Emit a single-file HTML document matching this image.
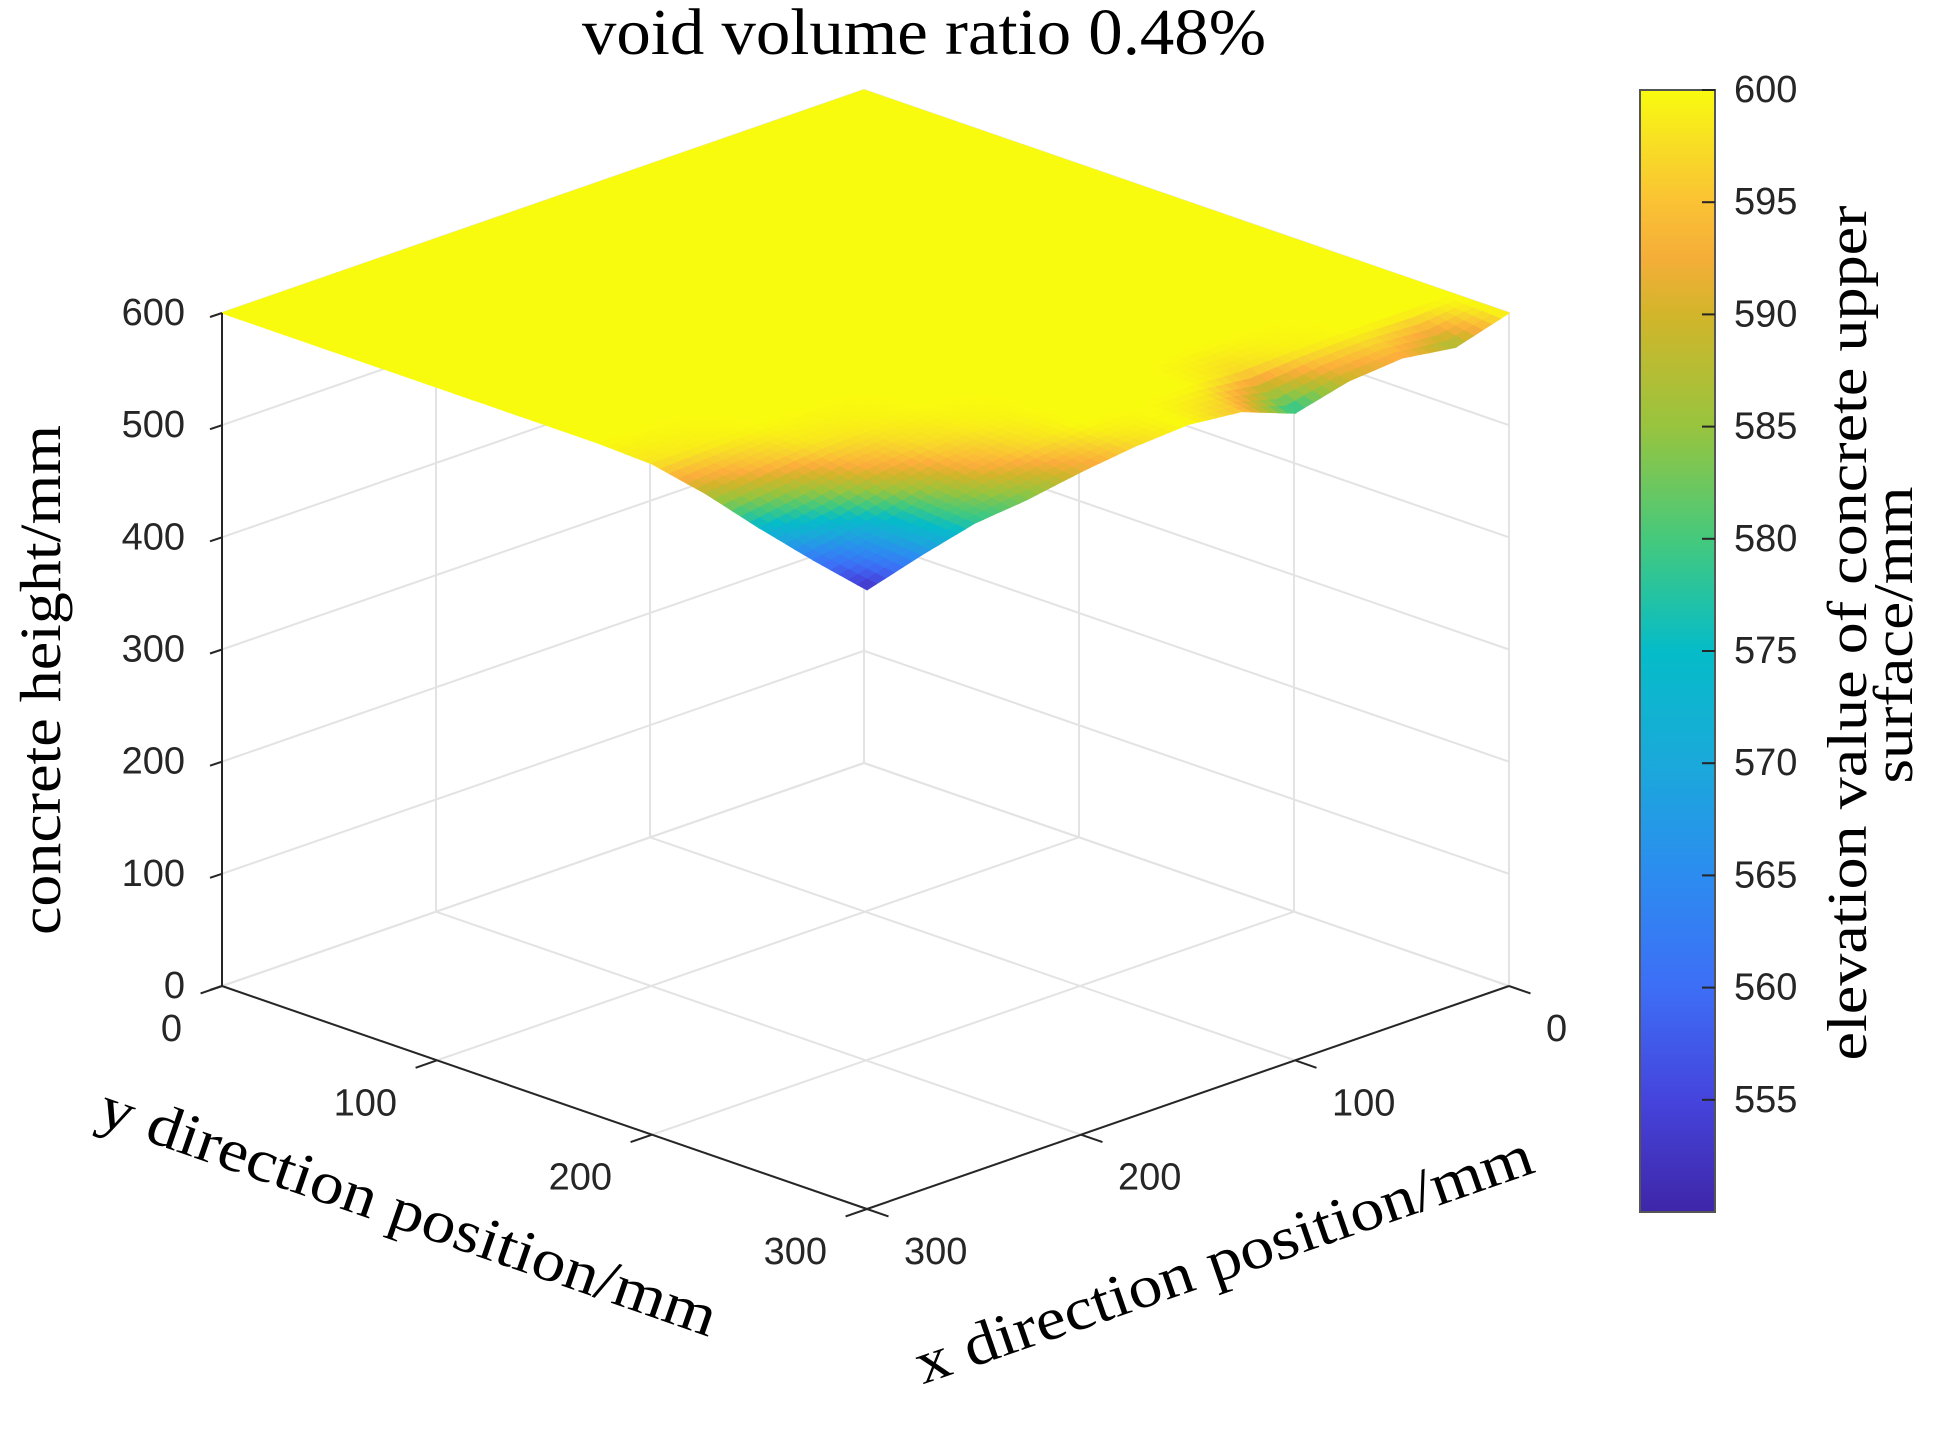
<!DOCTYPE html>
<html><head><meta charset="utf-8"><style>
html,body{margin:0;padding:0;background:#fff;}
svg{display:block;}
.tk{font-family:"Liberation Sans",Arial,sans-serif;font-size:38px;fill:#262626;}
.lb{font-family:"Liberation Serif","Times New Roman",serif;fill:#000;}
</style></head><body>
<svg id="chart" width="1956" height="1432" viewBox="0 0 1956 1432" xmlns="http://www.w3.org/2000/svg">
<g id="grid"></g>
<g id="surf"></g>
<g id="axes"></g>
<text class="lb" x="924" y="54" font-size="66" text-anchor="middle" textLength="684" lengthAdjust="spacingAndGlyphs">void volume ratio 0.48%</text>
<text class="lb" font-size="58" text-anchor="middle" transform="translate(60,680) rotate(-90)" textLength="510" lengthAdjust="spacingAndGlyphs">concrete height/mm</text>
<text class="lb" font-size="60" text-anchor="middle" transform="translate(402,1230) rotate(19.2)" textLength="650" lengthAdjust="spacingAndGlyphs">y direction position/mm</text>
<text class="lb" font-size="60" text-anchor="middle" transform="translate(1230,1278) rotate(-19.1)" textLength="650" lengthAdjust="spacingAndGlyphs">x direction position/mm</text>
<defs><linearGradient id="cbg" x1="0" y1="1" x2="0" y2="0"></linearGradient></defs>
<g id="cbar"></g>
<text class="lb" font-size="56" text-anchor="middle" transform="translate(1866,633) rotate(-90)" textLength="855" lengthAdjust="spacingAndGlyphs">elevation value of concrete upper</text>
<text class="lb" font-size="56" text-anchor="middle" transform="translate(1912,635) rotate(-90)" textLength="297" lengthAdjust="spacingAndGlyphs">surface/mm</text>
</svg>
<script>
// grid positions in mm (x rows, y cols), step 25
const gridX = [0,25,50,75,100,125,150,175,200,225,250,275,300];
const gridY = [0,25,50,75,100,125,150,175,200,225,250,275,300];
// surface elevation (mm), rows = x, cols = y
const elevRow0  = [600,600,600,600,600,600,600,600,600,600,600,600,600];
const elevRow1  = [600,600,600,600,600,600,600,600,600,600,600,600,586];
const elevRow2  = [600,600,600,600,600,600,600,600,600,600,600,600,593];
const elevRow3  = [600,600,600,600,600,600,600,600,600,600,600,599,589];
const elevRow4  = [600,600,600,600,600,600,600,600,600,600,600,597,577];
const elevRow5  = [600,600,600,600,600,600,600,600,600,600,600,600,595];
const elevRow6  = [600,600,600,600,600,600,600,600,600,600,600,600,600];
const elevRow7  = [600,600,600,600,600,600,600,600,600,600,600,600,597];
const elevRow8  = [600,600,600,600,600,600,600,600,600,600,599,597,591];
const elevRow9  = [600,600,600,600,600,600,600,600,600,599,597,592,583];
const elevRow10 = [600,600,600,600,600,600,600,600,600,598,592,582,578];
const elevRow11 = [600,600,600,600,600,600,600,600,599,594,582,570,566];
const elevRow12 = [600,600,600,600,600,600,600,600,598,588,574,562,552];
const elev = [elevRow0,elevRow1,elevRow2,elevRow3,elevRow4,elevRow5,elevRow6,elevRow7,elevRow8,elevRow9,elevRow10,elevRow11,elevRow12];
const zTicks = [0,100,200,300,400,500,600];
const xyTicks = [0,100,200,300];
const cbTicks = [555,560,565,570,575,580,585,590,595,600];
const cMin = 550, cMax = 600;

const NS = "http://www.w3.org/2000/svg";
function P(x,y,z){ return [864 - x*642/300 + y*645/300, 763 + x*223/300 + y*223/300 - z*673/600]; }
const stops = [[0,[62,38,168]],[0.1,[69,68,220]],[0.2,[61,110,246]],[0.3,[44,140,240]],[0.4,[26,169,218]],[0.5,[5,188,200]],[0.6,[69,201,124]],[0.7,[152,196,62]],[0.8,[210,181,42]],[0.86,[252,173,60]],[0.93,[248,209,46]],[1,[249,251,14]]];
function cmap(z){
  let t=(z-cMin)/(cMax-cMin); t=Math.max(0,Math.min(1,t));
  for(let k=1;k<stops.length;k++){ if(t<=stops[k][0]){ const a=stops[k-1],b=stops[k]; const f=(t-a[0])/(b[0]-a[0]);
    const c=a[1].map((v,i)=>Math.round(v+(b[1][i]-v)*f)); return `rgb(${c[0]},${c[1]},${c[2]})`; } }
  return "rgb(249,251,14)";
}
function line(g,a,b,col,w,name){ const l=document.createElementNS(NS,"line");
  l.setAttribute("x1",a[0]);l.setAttribute("y1",a[1]);l.setAttribute("x2",b[0]);l.setAttribute("y2",b[1]);
  l.setAttribute("stroke",col);l.setAttribute("stroke-width",w);
  
  
  g.appendChild(l); }
function text(g,x,y,s,anchor,name){ const t=document.createElementNS(NS,"text");
  t.setAttribute("x",x);t.setAttribute("y",y);t.setAttribute("class","tk");t.setAttribute("text-anchor",anchor);
  t.setAttribute("dominant-baseline","central");t.textContent=s;
  
  
  g.appendChild(t); }

// grid
const G=document.getElementById("grid"), gc="#e3e3e3";
xyTicks.forEach(v=>{
  line(G,P(v,0,0),P(v,300,0),gc,2,"floor-grid-x");
  line(G,P(0,v,0),P(300,v,0),gc,2,"floor-grid-y");
  line(G,P(v,0,0),P(v,0,600),gc,2,"wall-grid-vertical");
  line(G,P(0,v,0),P(0,v,600),gc,2,"wall-grid-vertical");
});
zTicks.forEach(z=>{
  line(G,P(300,0,z),P(0,0,z),gc,2,"wall-grid-z");
  line(G,P(0,0,z),P(0,300,z),gc,2,"wall-grid-z");
});

// surface
const S=document.getElementById("surf"), sub=6, n=gridX.length;
function zAt(i,j){ return elev[i][j]; }
const quads=[];
for(let i=0;i<n-1;i++)for(let j=0;j<n-1;j++){
  for(let a=0;a<sub;a++)for(let b=0;b<sub;b++){
    const pts=[], zs=[];
    [[a,b],[a+1,b],[a+1,b+1],[a,b+1]].forEach(([u,v])=>{
      const fu=u/sub,fv=v/sub;
      const z=zAt(i,j)*(1-fu)*(1-fv)+zAt(i+1,j)*fu*(1-fv)+zAt(i+1,j+1)*fu*fv+zAt(i,j+1)*(1-fu)*fv;
      const x=gridX[i]+(gridX[i+1]-gridX[i])*fu, y=gridY[j]+(gridY[j+1]-gridY[j])*fv;
      pts.push(P(x,y,z)); zs.push(z);
    });
    quads.push({o:i*sub+a+j*sub+b,pts,z:(zs[0]+zs[1]+zs[2]+zs[3])/4});
  }
}
quads.sort((p,q)=>p.o-q.o);
quads.forEach(q=>{ const p=document.createElementNS(NS,"polygon");
  p.setAttribute("points",q.pts.map(v=>v[0].toFixed(1)+","+v[1].toFixed(1)).join(" "));
  const c=cmap(q.z); p.setAttribute("fill",c); p.setAttribute("stroke",c); p.setAttribute("stroke-width","1.2");
  
  
  S.appendChild(p); });

// axes
const A=document.getElementById("axes"), ac="#262626";
line(A,P(300,0,0),P(300,0,600),ac,2,"z-axis-line");
line(A,P(300,0,0),P(300,300,0),ac,2,"y-axis-line");
line(A,P(300,300,0),P(0,300,0),ac,2,"x-axis-line");
zTicks.forEach(z=>{ const p=P(300,0,z); line(A,p,[p[0]-12,p[1]+4],ac,2,"z-tick");
  text(A,185,p[1],String(z),"end","z-tick-label"); });
xyTicks.forEach(v=>{ const p=P(300,v,0); line(A,p,P(310,v,0),ac,2,"y-tick");
  text(A,p[0]-40,p[1]+43,String(v),"end","y-tick-label");
  const q=P(v,300,0); line(A,q,P(v,310,0),ac,2,"x-tick");
  text(A,q[0]+37,q[1]+43,String(v),"start","x-tick-label"); });

// colorbar
const grad=document.getElementById("cbg");
for(let k=0;k<=20;k++){ const s=document.createElementNS(NS,"stop"); s.setAttribute("offset",k/20);
  s.setAttribute("stop-color",cmap(cMin+(cMax-cMin)*k/20)); grad.appendChild(s); }
const C=document.getElementById("cbar"), cx0=1640, cx1=1715, cy0=90, cy1=1212;
function cy(v){ return cy1-(v-cMin)/(cMax-cMin)*(cy1-cy0); }
const r=document.createElementNS(NS,"rect");
r.setAttribute("x",cx0);r.setAttribute("y",cy0);r.setAttribute("width",cx1-cx0);r.setAttribute("height",cy1-cy0);
r.setAttribute("fill","url(#cbg)");r.setAttribute("stroke","#555");r.setAttribute("stroke-width","2");


C.appendChild(r);
cbTicks.forEach(v=>{ const y=cy(v); line(C,[cx1-13,y],[cx1,y],ac,2,"colorbar-tick");
  text(C,1734,y,String(v),"start","colorbar-tick-label"); });
</script>
</body></html>
